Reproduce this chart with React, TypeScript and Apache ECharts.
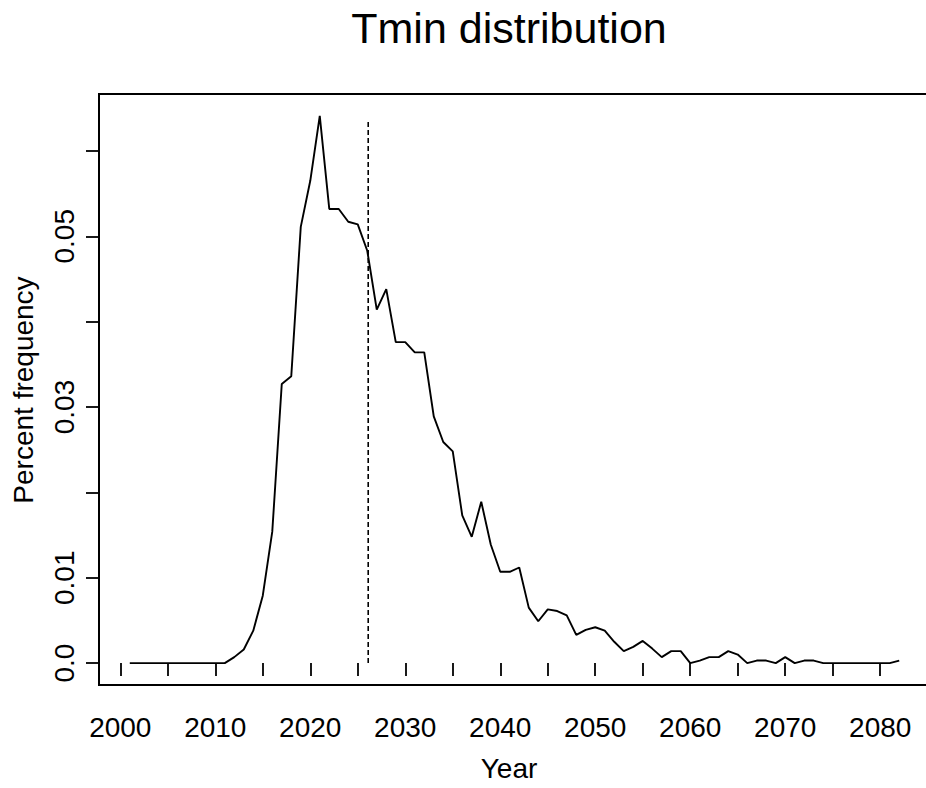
import React, { useEffect, useRef } from "react";
import * as echarts from "echarts";

const years = [
  2001, 2002, 2003, 2004, 2005, 2006, 2007, 2008, 2009, 2010,
  2011, 2012, 2013, 2014, 2015, 2016, 2017, 2018, 2019, 2020,
  2021, 2022, 2023, 2024, 2025, 2026, 2027, 2028, 2029, 2030,
  2031, 2032, 2033, 2034, 2035, 2036, 2037, 2038, 2039, 2040,
  2041, 2042, 2043, 2044, 2045, 2046, 2047, 2048, 2049, 2050,
  2051, 2052, 2053, 2054, 2055, 2056, 2057, 2058, 2059, 2060,
  2061, 2062, 2063, 2064, 2065, 2066, 2067, 2068, 2069, 2070,
  2071, 2072, 2073, 2074, 2075, 2076, 2077, 2078, 2079, 2080,
  2081, 2082,
];

const frequency = [
  0, 0, 0, 0, 0, 0, 0, 0, 0, 0,
  0, 0.0007, 0.0016, 0.0038, 0.0079, 0.0154, 0.0327, 0.0336, 0.0511, 0.0565,
  0.0641, 0.0532, 0.0532, 0.0517, 0.0514, 0.0483, 0.0414, 0.0438, 0.0376, 0.0376,
  0.0364, 0.0364, 0.0289, 0.0259, 0.0248, 0.0173, 0.0148, 0.0189, 0.0139, 0.0107,
  0.0107, 0.0112, 0.0065, 0.0049, 0.0063, 0.0061, 0.0056, 0.0033, 0.0039, 0.0042,
  0.0038, 0.0025, 0.0014, 0.0019, 0.0026, 0.0017, 0.0007, 0.0014, 0.0014, 0,
  0.0003, 0.0007, 0.0007, 0.0014, 0.0010, 0, 0.0003, 0.0003, 0, 0.0007,
  0, 0.0003, 0.0003, 0, 0, 0, 0, 0, 0, 0,
  0, 0.0003,
];

const markerYear = 2026.1;
const markerTop = 0.0635;

const xTicks = [2000, 2005, 2010, 2015, 2020, 2025, 2030, 2035, 2040, 2045, 2050, 2055, 2060, 2065, 2070, 2075, 2080];
const xLabels = [2000, 2010, 2020, 2030, 2040, 2050, 2060, 2070, 2080];
const yTicks = [0, 0.01, 0.02, 0.03, 0.04, 0.05, 0.06];
const yLabels = [0, 0.01, 0.03, 0.05];

const titleText = "Tmin distribution";
const xTitle = "Year";
const yTitle = "Percent frequency";

const FONT = "'Liberation Sans', Arial, Helvetica, sans-serif";

export default function App() {
  const ref = useRef<HTMLDivElement>(null);

  useEffect(() => {
    if (!ref.current) return;
    const chart = echarts.init(ref.current, null, { renderer: "svg" });

    const xMin = 2001 - 0.04 * (2082 - 2001);
    const xMax = 2082 + 0.04 * (2082 - 2001);
    const yMaxData = Math.max(...frequency);
    const yMin = -0.04 * yMaxData;
    const yMax = yMaxData * 1.04;

    chart.setOption({
      animation: false,
      backgroundColor: "#ffffff",
      textStyle: { fontFamily: FONT },
      grid: {
        left: 99,
        top: 94,
        right: -4,
        bottom: 103,
        outerBoundsMode: "none",
        containLabel: false,
        show: true,
        borderColor: "#000",
        borderWidth: 2,
        backgroundColor: "transparent",
      },
      xAxis: {
        type: "value",
        min: xMin,
        max: xMax,
        axisLine: { show: false },
        splitLine: { show: false },
        axisTick: {
          show: true,
          length: 13,
          lineStyle: { color: "#000", width: 1.8 },
          customValues: xTicks,
        },
        axisLabel: {
          show: true,
          margin: 28,
          color: "#000",
          fontSize: 28,
          fontFamily: FONT,
          customValues: xLabels,
          formatter: (v: number) => String(Math.round(v)),
        },
      },
      yAxis: {
        type: "value",
        min: yMin,
        max: yMax,
        axisLine: { show: false },
        splitLine: { show: false },
        axisTick: {
          show: true,
          length: 13,
          lineStyle: { color: "#000", width: 1.8 },
          customValues: yTicks,
        },
        axisLabel: {
          show: true,
          rotate: 90,
          margin: 21,
          color: "#000",
          fontSize: 28,
          fontFamily: FONT,
          customValues: yLabels,
          formatter: (v: number) => (Math.abs(v) < 1e-9 ? "0.0" : v.toFixed(2)),
        },
      },
      graphic: [
        {
          type: "text",
          x: 509,
          y: 28,
          style: {
            text: titleText,
            fontSize: 43,
            fontFamily: FONT,
            fill: "#000",
            textAlign: "center",
            textVerticalAlign: "middle",
          },
        },
        {
          type: "text",
          x: 509,
          y: 768,
          style: {
            text: xTitle,
            fontSize: 28,
            fontFamily: FONT,
            fill: "#000",
            textAlign: "center",
            textVerticalAlign: "middle",
          },
        },
        {
          type: "text",
          x: 23,
          y: 390,
          rotation: Math.PI / 2,
          style: {
            text: yTitle,
            fontSize: 28,
            fontFamily: FONT,
            fill: "#000",
            textAlign: "center",
            textVerticalAlign: "middle",
          },
        },
      ],
      series: [
        {
          type: "line",
          data: years.map((y, i) => [y, frequency[i]]),
          showSymbol: false,
          symbol: "none",
          lineStyle: { color: "#000", width: 1.9 },
          z: 3,
        },
        {
          type: "line",
          data: [
            [markerYear, 0],
            [markerYear, markerTop],
          ],
          showSymbol: false,
          symbol: "none",
          lineStyle: { color: "#000", width: 1.6, type: [5, 3] },
          z: 2,
        },
      ],
    });

    return () => chart.dispose();
  }, []);

  return (
    <div
      ref={ref}
      style={{ position: "fixed", left: 0, top: 0, width: 926, height: 788, background: "#fff" }}
    />
  );
}
